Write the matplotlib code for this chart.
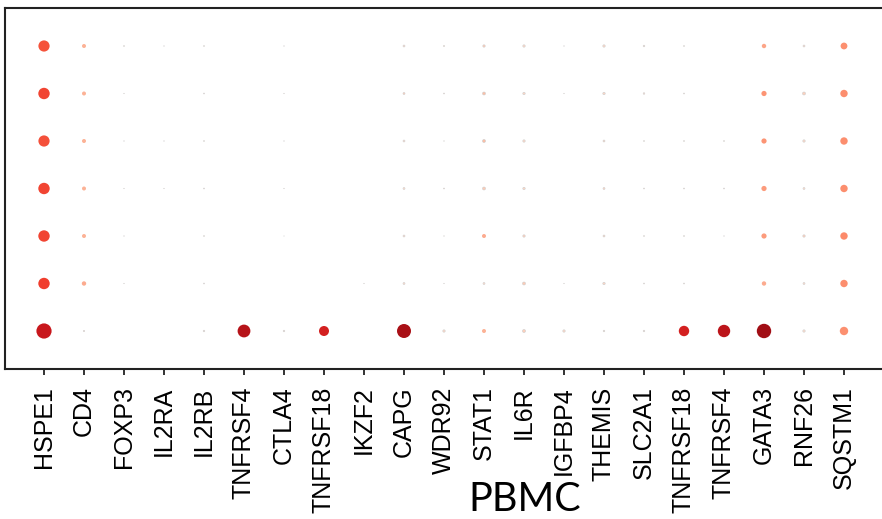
import numpy as np
import matplotlib
matplotlib.use("Agg")
import matplotlib.pyplot as plt

genes = ["HSPE1", "CD4", "FOXP3", "IL2RA", "IL2RB", "TNFRSF4", "CTLA4",
         "TNFRSF18", "IKZF2", "CAPG", "WDR92", "STAT1", "IL6R", "IGFBP4",
         "THEMIS", "SLC2A1", "TNFRSF18", "TNFRSF4", "GATA3", "RNF26", "SQSTM1"]
n_rows = 7  # rows listed top -> bottom in each array below

# percent of cells expressing (per gene, rows top -> bottom)
pct_expressed = {
    "HSPE1":     [56, 57, 56, 57, 57, 57, 76],
    "CD4":       [20, 20, 20, 20, 20, 22, 7],
    "FOXP3":     [5, 3, 3, 3, 3, 3, 0],
    "IL2RA":     [3, 0, 3, 3, 0, 0, 0],
    "IL2RB":     [5, 5, 5, 5, 5, 5, 8],
    "TNFRSF4":   [0, 0, 0, 0, 0, 0, 64],
    "CTLA4":     [3, 3, 3, 3, 2, 0, 8],
    "TNFRSF18":  [0, 0, 0, 0, 0, 0, 50],
    "IKZF2":     [0, 0, 0, 0, 0, 3, 0],
    "CAPG":      [10, 10, 10, 10, 10, 10, 70],
    "WDR92":     [6, 5, 3, 5, 3, 3, 12],
    "STAT1":     [12, 15, 15, 15, 20, 10, 20],
    "IL6R":      [12, 12, 12, 12, 12, 15, 15],
    "IGFBP4":    [3, 3, 0, 0, 0, 3, 12],
    "THEMIS":    [12, 12, 10, 10, 10, 12, 8],
    "SLC2A1":    [8, 8, 5, 5, 5, 5, 8],
    "TNFRSF18b": [5, 5, 5, 5, 5, 5, 52],
    "TNFRSF4b":  [0, 0, 5, 5, 3, 0, 62],
    "GATA3":     [22, 26, 26, 26, 26, 22, 72],
    "RNF26":     [10, 15, 12, 10, 12, 10, 12],
    "SQSTM1":    [34, 37, 37, 37, 37, 37, 42],
}
# scaled average expression (0-1)
avg_expr = {
    "HSPE1":     [0.56, 0.60, 0.57, 0.60, 0.60, 0.62, 0.76],
    "CD4":       [0.28, 0.28, 0.28, 0.28, 0.28, 0.30, 0.12],
    "FOXP3":     [0.10, 0.10, 0.10, 0.10, 0.10, 0.10, 0.0],
    "IL2RA":     [0.10, 0.0, 0.10, 0.10, 0.0, 0.0, 0.0],
    "IL2RB":     [0.10, 0.10, 0.10, 0.10, 0.10, 0.10, 0.12],
    "TNFRSF4":   [0.0, 0.0, 0.0, 0.0, 0.0, 0.0, 0.82],
    "CTLA4":     [0.10, 0.10, 0.10, 0.10, 0.10, 0.0, 0.12],
    "TNFRSF18":  [0.0, 0.0, 0.0, 0.0, 0.0, 0.0, 0.72],
    "IKZF2":     [0.0, 0.0, 0.0, 0.0, 0.0, 0.10, 0.0],
    "CAPG":      [0.14, 0.18, 0.14, 0.14, 0.14, 0.14, 0.86],
    "WDR92":     [0.14, 0.14, 0.12, 0.14, 0.12, 0.12, 0.16],
    "STAT1":     [0.20, 0.24, 0.24, 0.20, 0.30, 0.14, 0.28],
    "IL6R":      [0.16, 0.16, 0.16, 0.16, 0.18, 0.20, 0.18],
    "IGFBP4":    [0.10, 0.10, 0.0, 0.0, 0.0, 0.10, 0.16],
    "THEMIS":    [0.16, 0.16, 0.16, 0.16, 0.16, 0.16, 0.14],
    "SLC2A1":    [0.14, 0.14, 0.12, 0.12, 0.12, 0.12, 0.12],
    "TNFRSF18b": [0.12, 0.12, 0.12, 0.12, 0.12, 0.12, 0.72],
    "TNFRSF4b":  [0.0, 0.0, 0.10, 0.10, 0.10, 0.0, 0.80],
    "GATA3":     [0.32, 0.37, 0.37, 0.35, 0.35, 0.30, 0.88],
    "RNF26":     [0.14, 0.18, 0.16, 0.14, 0.18, 0.14, 0.14],
    "SQSTM1":    [0.38, 0.39, 0.39, 0.39, 0.40, 0.39, 0.38],
}
xlabel = "PBMC"

W, H = 882, 519
fig = plt.figure(figsize=(W / 100, H / 100), dpi=100)
ax = fig.add_axes([5 / W, (H - 369) / H, (884 - 5) / W, (369 - 8) / H])

cmap = plt.get_cmap("Reds")
keys = list(pct_expressed.keys())
xs, ys, ss, cs, lws = [], [], [], [], []
for i, k in enumerate(keys):
    for r in range(n_rows):
        p = pct_expressed[k][r]
        if p <= 0:
            continue
        d_px = p / 5.0
        xs.append(i)
        ys.append(n_rows - 1 - r)
        ss.append((d_px * 0.72) ** 2)
        cs.append(cmap(avg_expr[k][r]))
        lws.append(0.4 if d_px < 4 else 0.0)

ax.scatter(xs, ys, s=ss, c=cs, edgecolors="#cccccc", linewidths=lws, zorder=3)

ax.set_xlim(-0.975, 21.0)
ax.set_ylim(-0.8, 6.8)
ax.set_xticks(range(len(genes)))
ax.set_xticklabels(genes, rotation=90, fontsize=18, family="Liberation Sans")
ax.set_yticks([])
for sp in ax.spines.values():
    sp.set_linewidth(1.5)
    sp.set_color("#222222")
ax.tick_params(axis="x", length=4.5, width=1.3, pad=8, color="#222222")

fig.text(525 / W, 1 / H, xlabel, fontsize=28.5, family="Lato",
         ha="center", va="bottom")

fig.savefig("out.png", dpi=100)
